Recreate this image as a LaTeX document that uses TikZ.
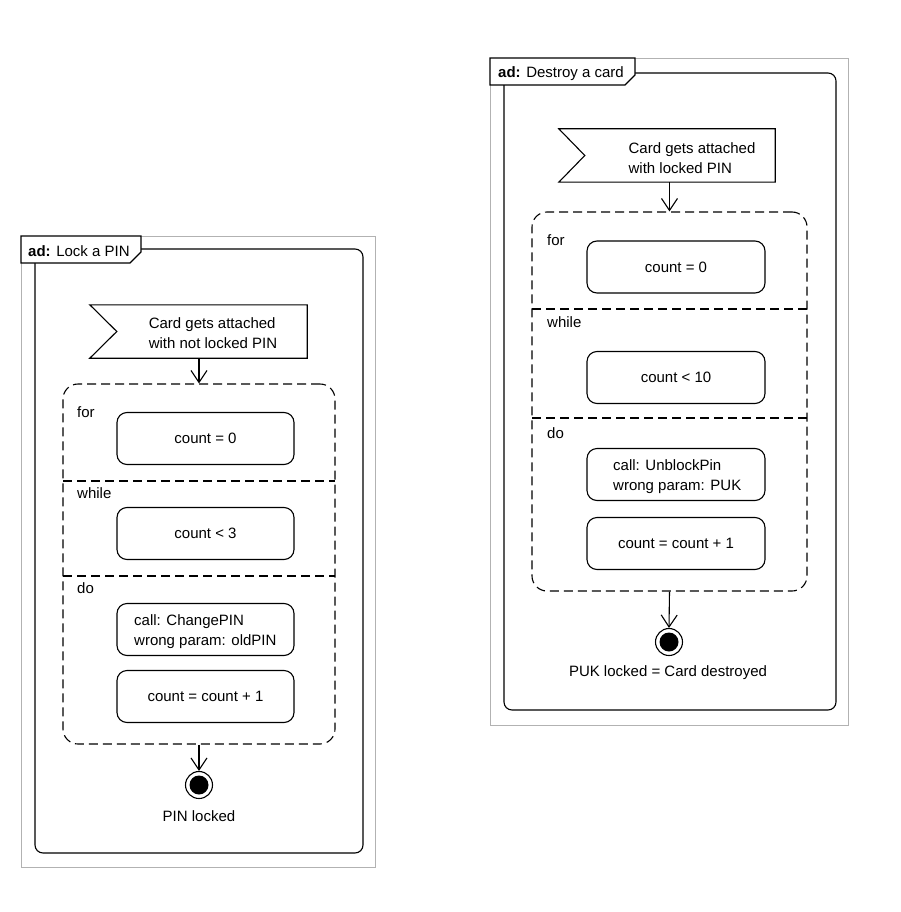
\documentclass[tikz,border=0pt]{standalone}
\usepackage{fontspec}
\setmainfont{Liberation Sans}
\usetikzlibrary{arrows.meta,calc}
\begin{document}
\begin{tikzpicture}[x=1pt,y=-1pt,
  frame/.style={draw=black!30, line width=0.9pt},
  panel/.style={draw, rounded corners=8pt, line width=1.1pt},
  tabbox/.style={draw, fill=white, line width=1.1pt},
  region/.style={draw, dash pattern=on 9pt off 5pt, rounded corners=15pt, line width=1.1pt, inner sep=0pt},
  sep/.style={dash pattern=on 9pt off 5pt, line width=1.1pt},
  actbox/.style={draw, rounded corners=10pt, minimum height=52pt, inner sep=0pt, line width=1.1pt, font=\fontsize{15}{20}\selectfont},
  sigbox/.style={inner sep=0pt},
  sigline/.style={line width=1.1pt},
  flow/.style={-{Straight Barb[length=12pt,width=16pt]}, line width=1.1pt},
  lbl/.style={font=\fontsize{15}{20}\selectfont, inner sep=0pt},
  final/.style={circle, draw, line width=1.1pt, minimum size=27pt, inner sep=0pt}
]
\useasboundingbox (0,0) rectangle (901,912);

% ---------------- Left diagram ----------------
\draw[frame] (21,236) rectangle (375,867);
\draw[panel] (35,249) rectangle (363,853);
\draw[tabbox] (21,236) -- (141,236) -- (141,252) -- (130,263) -- (21,263) -- cycle;
\node[lbl, anchor=base west] (t1) at (28,256) {\textbf{ad:} Lock a PIN};

\node[sigbox, minimum width=217pt, minimum height=53pt] (s1) at (198.5,331.5) {};
\draw[sigline] (s1.north west) -- (s1.north east) -- (s1.south east) -- (s1.south west) -- ($(s1.west)+(27,0)$) -- cycle;
\node[lbl, align=left] (s1t) at (213,333) {Card gets attached\\with not locked PIN};

\node[region, minimum width=272pt, minimum height=360pt] (r1) at (199,564) {};
\draw[sep] (63,481) -- (335,481);
\draw[sep] (63,576) -- (335,576);
\node[lbl, anchor=base west] (f1for) at (77,417) {for};
\node[lbl, anchor=base west] (f1while) at (77,498) {while};
\node[lbl, anchor=base west] (f1do) at (77,593) {do};

\node[actbox, minimum width=177pt] (a1) at (205.5,438.5) {count = 0};
\node[actbox, minimum width=177pt] (a2) at (205.5,533.5) {count < 3};
\node[actbox, minimum width=177pt] (a3) at (205.5,629.5) {};
\node[lbl, anchor=west, align=left] (a3t) at (134,632) {call: ChangePIN\\wrong param: oldPIN};
\node[actbox, minimum width=177pt] (a4) at (205.5,696.5) {count = count + 1};

\node[final] (e1) at (199,785) {};
\fill (e1.center) circle[radius=9.5pt];
\node[lbl] (e1l) at (199,816) {PIN locked};

\draw[flow] (r1.north |- s1.south) -- (r1.north);
\draw[flow] (r1.south) -- (e1.north);

% ---------------- Right diagram ----------------
\draw[frame] (490,58) rectangle (848,725);
\draw[panel] (504,73) rectangle (836,710);
\draw[tabbox] (490,58) -- (635,58) -- (635,75) -- (625,85) -- (490,85) -- cycle;
\node[lbl, anchor=base west] (t2) at (498,78) {\textbf{ad:} Destroy a card};

\node[sigbox, minimum width=216pt, minimum height=53pt] (s2) at (667,155.5) {};
\draw[sigline] (s2.north west) -- (s2.north east) -- (s2.south east) -- (s2.south west) -- ($(s2.west)+(26,0)$) -- cycle;
\node[lbl, align=left] (s2t) at (692,158) {Card gets attached\\with locked PIN};

\node[region, minimum width=275pt, minimum height=379pt] (r2) at (669.5,401.5) {};
\draw[sep] (532,309) -- (807,309);
\draw[sep] (532,418) -- (807,418);
\node[lbl, anchor=base west] (f2for) at (547,245) {for};
\node[lbl, anchor=base west] (f2while) at (547,327) {while};
\node[lbl, anchor=base west] (f2do) at (547,438) {do};

\node[actbox, minimum width=178pt] (b1) at (676,267) {count = 0};
\node[actbox, minimum width=178pt] (b2) at (676,377.5) {count < 10};
\node[actbox, minimum width=178pt] (b3) at (676,474.5) {};
\node[lbl, anchor=west, align=left] (b3t) at (613,476.5) {call: UnblockPin\\wrong param: PUK};
\node[actbox, minimum width=178pt] (b4) at (676,543.5) {count = count + 1};

\node[final] (e2) at (669,642) {};
\fill (e2.center) circle[radius=9.5pt];
\node[lbl] (e2l) at (668,673) {PUK locked = Card destroyed};

\draw[flow] (r2.north |- s2.south) -- (r2.north);
\draw[flow] (r2.south) -- (e2.north);
\end{tikzpicture}
\end{document}
